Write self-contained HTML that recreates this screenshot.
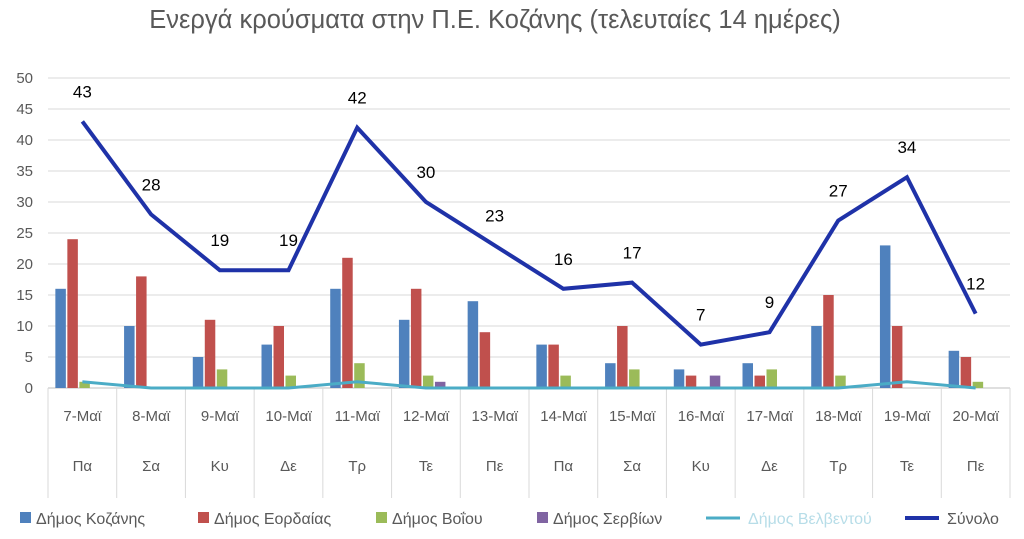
<!DOCTYPE html>
<html><head><meta charset="utf-8"><style>
body{margin:0;background:#fff;font-family:"Liberation Sans",sans-serif}
svg text{font-family:"Liberation Sans",sans-serif}
</style></head><body>
<svg id="c" width="1024" height="534">
<text x="495" y="28" text-anchor="middle" font-size="25.5" fill="#595959">Ενεργά κρούσματα στην Π.Ε. Κοζάνης (τελευταίες 14 ημέρες)</text>
<g id="g"></g>
</svg>
<script>
const dates=["7-Μαϊ","8-Μαϊ","9-Μαϊ","10-Μαϊ","11-Μαϊ","12-Μαϊ","13-Μαϊ","14-Μαϊ","15-Μαϊ","16-Μαϊ","17-Μαϊ","18-Μαϊ","19-Μαϊ","20-Μαϊ"];
const days=["Πα","Σα","Κυ","Δε","Τρ","Τε","Πε","Πα","Σα","Κυ","Δε","Τρ","Τε","Πε"];
const kozanis=[16,10,5,7,16,11,14,7,4,3,4,10,23,6];
const eordaias=[24,18,11,10,21,16,9,7,10,2,2,15,10,5];
const voiou=[1,0,3,2,4,2,0,2,3,0,3,2,0,1];
const servion=[0,0,0,0,0,1,0,0,0,2,0,0,0,0];
const velventou=[1,0,0,0,1,0,0,0,0,0,0,0,1,0];
const total=[43,28,19,19,42,30,23,16,17,7,9,27,34,12];
const yTicks=[0,5,10,15,20,25,30,35,40,45,50];
const L=48,R=1010,Y0=388,Y1=78,YMAX=50;
const cw=(R-L)/dates.length;
const y=v=>Y0-(Y0-Y1)*v/YMAX;
const cx=i=>L+cw*(i+0.5);
const g=document.getElementById('g');
const NS="http://www.w3.org/2000/svg";
function el(t,a,p){const e=document.createElementNS(NS,t);for(const k in a)e.setAttribute(k,a[k]);(p||g).appendChild(e);return e;}
yTicks.forEach(t=>{
const l=el('line',{x1:L,x2:R,y1:y(t),y2:y(t),stroke:t===0?'#bfbfbf':'#d9d9d9','stroke-width':1});


const tx=el('text',{x:33,y:y(t)+5,'text-anchor':'end','font-size':15,fill:'#595959'});tx.textContent=t;


});
for(let i=0;i<=dates.length;i++){
const l=el('line',{x1:L+cw*i,x2:L+cw*i,y1:Y0,y2:498,stroke:'#d9d9d9'});


}
dates.forEach((d,i)=>{
const t=el('text',{x:cx(i),y:421,'text-anchor':'middle','font-size':15,fill:'#595959'});t.textContent=d;


const t2=el('text',{x:cx(i),y:471,'text-anchor':'middle','font-size':15,fill:'#595959'});t2.textContent=days[i];


});
const series=[[kozanis,'#4f81bd',-27,'bar-kozanis'],[eordaias,'#c0504d',-15,'bar-eordaias'],[voiou,'#9bbb59',-3,'bar-voiou'],[servion,'#8064a2',9,'bar-servion']];
series.forEach(([arr,col,off,nm])=>arr.forEach((v,i)=>{
if(v<=0)return;
const r=el('rect',{x:cx(i)+off,y:y(v),width:10.5,height:Y0-y(v),fill:col});


}));
const vp=el('polyline',{points:velventou.map((v,i)=>cx(i)+','+y(v)).join(' '),fill:'none',stroke:'#4bacc6','stroke-width':3});


const tp=el('polyline',{points:total.map((v,i)=>cx(i)+','+y(v)).join(' '),fill:'none',stroke:'#1f32a8','stroke-width':4,'stroke-linejoin':'miter'});


total.forEach((v,i)=>{
const t=el('text',{x:cx(i),y:y(v)-24,'text-anchor':'middle','font-size':17,fill:'#000'});t.textContent=v;


});
const leg=[['Δήμος Κοζάνης','#4f81bd','r',20],['Δήμος Εορδαίας','#c0504d','r',198],['Δήμος Βοΐου','#9bbb59','r',376],['Δήμος Σερβίων','#8064a2','r',537],['Δήμος Βελβεντού','#4bacc6','l',706],['Σύνολο','#1f32a8','l',905]];
leg.forEach(([n,c,t,x])=>{
let m;
if(t==='r'){m=el('rect',{x:x,y:512,width:11,height:11,fill:c});}
else{m=el('line',{x1:x,x2:x+34,y1:518,y2:518,stroke:c,'stroke-width':c==='#1f32a8'?4:3});}


const tx=el('text',{x:x+(t==='r'?16:42),y:524,'font-size':16,fill:n==='Δήμος Βελβεντού'?'#b7dde8':'#595959'});tx.textContent=n;


});
</script>
</body></html>
